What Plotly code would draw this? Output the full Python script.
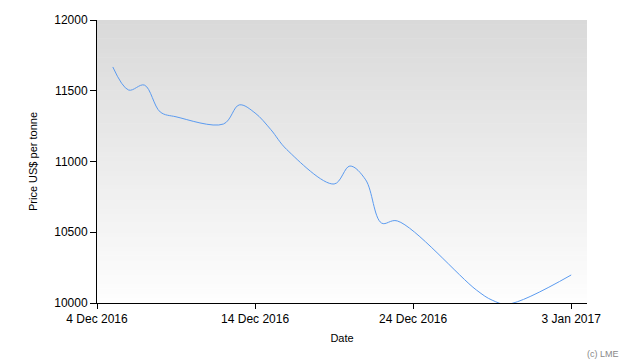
import plotly.graph_objects as go

dates = ["2016-12-05", "2016-12-06", "2016-12-07", "2016-12-08", "2016-12-09",
         "2016-12-12", "2016-12-13", "2016-12-14", "2016-12-15", "2016-12-16",
         "2016-12-19", "2016-12-20", "2016-12-21", "2016-12-22", "2016-12-23",
         "2016-12-28", "2016-12-29", "2016-12-30", "2017-01-03"]
prices = [11668, 11505, 11540, 11350, 11316,
          11265, 11400, 11343, 11225, 11085,
          10841, 10968, 10870, 10565, 10580,
          10092, 10020, 9992, 10198]
x_ticks = ["2016-12-04", "2016-12-14", "2016-12-24", "2017-01-03"]
x_tick_labels = ["4 Dec 2016", "14 Dec 2016", "24 Dec 2016", "3 Jan 2017"]
y_ticks = [10000, 10500, 11000, 11500, 12000]
y_tick_labels = ["10000", "10500", "11000", "11500", "12000"]

fig = go.Figure()
fig.add_trace(go.Scatter(x=dates, y=prices, mode="lines",
                         line=dict(color="#5b9bf0", width=1, shape="spline", smoothing=1),
                         hoverinfo="x+y", showlegend=False))

# gradient background: white at bottom, light grey at top
n = 60
for i in range(n):
    t = i / n
    v = int(round(254 - (254 - 217) * ((i + 0.5) / n)))
    col = f"rgb({v},{v},{v})"
    fig.add_shape(type="rect", xref="x domain", yref="y domain",
                  x0=0, x1=1, y0=t, y1=min(1, t + 1 / n + 0.002),
                  fillcolor=col, line=dict(width=0), layer="below")

fig.update_layout(
    width=630, height=360,
    margin=dict(l=97, r=43, t=20, b=57),
    paper_bgcolor="white", plot_bgcolor="white",
    font=dict(family="Liberation Sans, Arial, sans-serif", size=12, color="black"),
    xaxis=dict(range=["2016-12-04", "2017-01-04"], tickvals=x_ticks, ticktext=x_tick_labels,
               showgrid=False, zeroline=False, showline=True, linecolor="black", linewidth=1,
               ticks="outside", ticklen=5, tickcolor="black",
               title=dict(text="Date", font=dict(size=11), standoff=8)),
    yaxis=dict(range=[10000, 12000], tickvals=y_ticks, ticktext=y_tick_labels,
               showgrid=False, zeroline=False,
               showline=True, linecolor="black", linewidth=1,
               ticks="outside", ticklen=6, tickcolor="black",
               title=dict(text="Price US$ per tonne", font=dict(size=11), standoff=14)),
    annotations=[dict(text="(c) LME", xref="paper", yref="paper", x=1.07, y=-0.155,
                      xanchor="right", yanchor="top", showarrow=False,
                      font=dict(size=9, color="#888888"))],
)

fig.write_html("out.html")
